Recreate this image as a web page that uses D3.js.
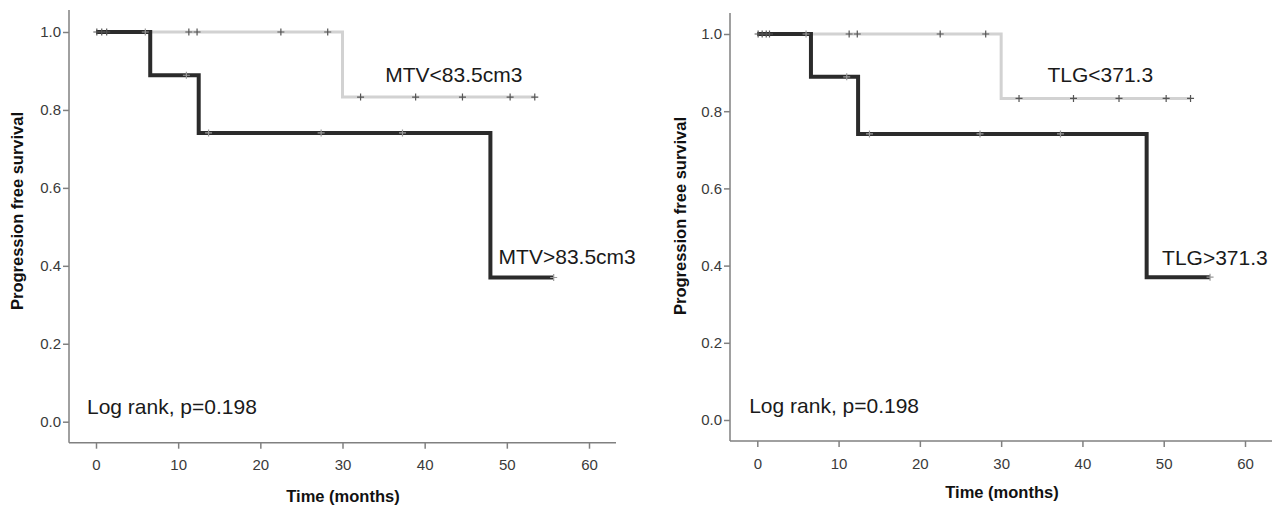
<!DOCTYPE html>
<html>
<head>
<meta charset="utf-8">
<script src="https://cdn.jsdelivr.net/npm/d3@7"></script>
<style>
  body { margin: 0; background: #fff; }
  svg { display: block; }
  .tick text { font-family: 'Liberation Sans', Arial, sans-serif; font-size: 15px; fill: #3a3a3a; }
  .axis path, .axis line { stroke: #808080; stroke-width: 1.5; }
  .ann { font-family: 'Liberation Sans', Arial, sans-serif; font-size: 21px; fill: #1a1a1a; }
  .ttl { font-family: 'Liberation Sans', Arial, sans-serif; font-size: 16.5px; font-weight: bold; fill: #111; }
</style>
</head>
<body>
<div id="chart"></div>
<script>
'use strict';

// tick values
let timeTicks = [0, 10, 20, 30, 40, 50, 60];
let survTicks = [0.0, 0.2, 0.4, 0.6, 0.8, 1.0];

// left panel (MTV) - step curves as [time, survival]
let mtvLowCurve = [[0, 1.0], [30.0, 0.833], [53.4, 0.833]];
let mtvHighCurve = [[0, 1.0], [6.6, 0.889], [12.5, 0.741], [48.0, 0.370], [55.7, 0.370]];
let mtvLowCensor = [0.1, 0.7, 1.3, 11.3, 12.3, 22.5, 28.2, 32.2, 38.9, 44.6, 50.4, 53.4];
let mtvHighCensor = [6.0, 11.0, 13.7, 27.4, 37.3, 55.7];

// right panel (TLG)
let tlgLowCurve = [[0, 1.0], [30.0, 0.833], [53.3, 0.833]];
let tlgHighCurve = [[0, 1.0], [6.6, 0.889], [12.4, 0.741], [47.9, 0.370], [55.7, 0.370]];
let tlgLowCensor = [0.1, 0.6, 1.1, 1.5, 11.3, 12.3, 22.5, 28.1, 32.2, 38.9, 44.5, 50.3, 53.3];
let tlgHighCensor = [6.0, 11.0, 13.8, 27.4, 37.3, 55.7];

let labelLow = ['MTV<83.5cm3', 'TLG<371.3'];
let labelHigh = ['MTV>83.5cm3', 'TLG>371.3'];
let pText = 'Log rank, p=0.198';

let W = 1280, H = 506;

let panels = [{
    low: mtvLowCurve, high: mtvHighCurve,
    lowC: mtvLowCensor, highC: mtvHighCensor,
    lowLabel: labelLow[0], highLabel: labelHigh[0],
    xr: [96, 589], yr: [421.7, 32],
    axisX: 69, axisTop: 10, axisY: 442.7, axisEnd: 616,
    lowPos: [35.2, 0.872], highPos: [49.0, 0.405], pPos: [-1.1, 0.021],
    yTitle: [17, 211], xTitle: [343, 502]
}, {
    low: tlgLowCurve, high: tlgHighCurve,
    lowC: tlgLowCensor, highC: tlgHighCensor,
    lowLabel: labelLow[1], highLabel: labelHigh[1],
    xr: [757.3, 1245], yr: [420, 34],
    axisX: 730, axisTop: 13, axisY: 441, axisEnd: 1272,
    lowPos: [35.7, 0.876], highPos: [49.8, 0.402], pPos: [-1.0, 0.017],
    yTitle: [680, 216], xTitle: [1002, 498]
}];

let svg = d3.select('#chart').append('svg')
    .attr('width', W)
    .attr('height', H);

// value of a step curve at time t
function survAt(curve, t) {
    let v = curve[0][1];
    curve.forEach(function(p) {
        if (p[0] <= t) {
            v = p[1];
        }
    });
    return v;
}

panels.forEach(function(p) {
    let x = d3.scaleLinear().domain([0, 60]).range(p.xr);
    let y = d3.scaleLinear().domain([0, 1]).range(p.yr);
    let g = svg.append('g');

    // axes
    let xAxis = d3.axisBottom(x).tickValues(timeTicks).tickSize(6).tickPadding(11)
        .tickFormat(d3.format('d'));
    let yAxis = d3.axisLeft(y).tickValues(survTicks).tickSize(6).tickPadding(2)
        .tickFormat(d3.format('.1f'));

    let gx = g.append('g')
        .attr('class', 'axis')
        .attr('transform', 'translate(0,' + p.axisY + ')')
        .call(xAxis);
    gx.select('.domain').remove();
    gx.append('line')
        .attr('x1', p.axisX).attr('x2', p.axisEnd)
        .attr('y1', 0).attr('y2', 0);

    let gy = g.append('g')
        .attr('class', 'axis')
        .attr('transform', 'translate(' + p.axisX + ',0)')
        .call(yAxis);
    gy.select('.domain').remove();
    gy.append('line')
        .attr('x1', 0).attr('x2', 0)
        .attr('y1', p.axisTop).attr('y2', p.axisY);

    let line = d3.line()
        .x(function(d) { return x(d[0]); })
        .y(function(d) { return y(d[1]); })
        .curve(d3.curveStepAfter);

    g.append('path')
        .attr('d', line(p.low))
        .attr('fill', 'none')
        .attr('stroke', '#d2d2d2')
        .attr('stroke-width', 3);

    g.append('path')
        .attr('d', line(p.high))
        .attr('fill', 'none')
        .attr('stroke', '#2b2b2b')
        .attr('stroke-width', 4);

    // censor marks
    function marks(times, curve, color) {
        times.forEach(function(t) {
            let cx = x(t), cy = y(survAt(curve, t));
            g.append('path')
                .attr('d', 'M' + (cx - 3.5) + ',' + cy + 'H' + (cx + 3.5) +
                    'M' + cx + ',' + (cy - 3.5) + 'V' + (cy + 3.5))
                .attr('stroke', color)
                .attr('stroke-width', 1.2);
        });
    }
    marks(p.lowC, p.low, '#555');
    marks(p.highC, p.high, '#9a9a9a');

    // annotations
    g.append('text').attr('class', 'ann')
        .attr('x', x(p.lowPos[0])).attr('y', y(p.lowPos[1]))
        .text(p.lowLabel);
    g.append('text').attr('class', 'ann')
        .attr('x', x(p.highPos[0])).attr('y', y(p.highPos[1]))
        .text(p.highLabel);
    g.append('text').attr('class', 'ann')
        .attr('x', x(p.pPos[0])).attr('y', y(p.pPos[1]))
        .text(pText);

    // axis titles
    g.append('text').attr('class', 'ttl')
        .attr('text-anchor', 'middle')
        .attr('x', p.xTitle[0]).attr('y', p.xTitle[1])
        .text('Time (months)');
    g.append('text').attr('class', 'ttl')
        .attr('text-anchor', 'middle')
        .attr('transform', 'translate(' + (p.yTitle[0] + 6) + ',' + p.yTitle[1] + ') rotate(-90)')
        .text('Progression free survival');
});
</script>
</body>
</html>
